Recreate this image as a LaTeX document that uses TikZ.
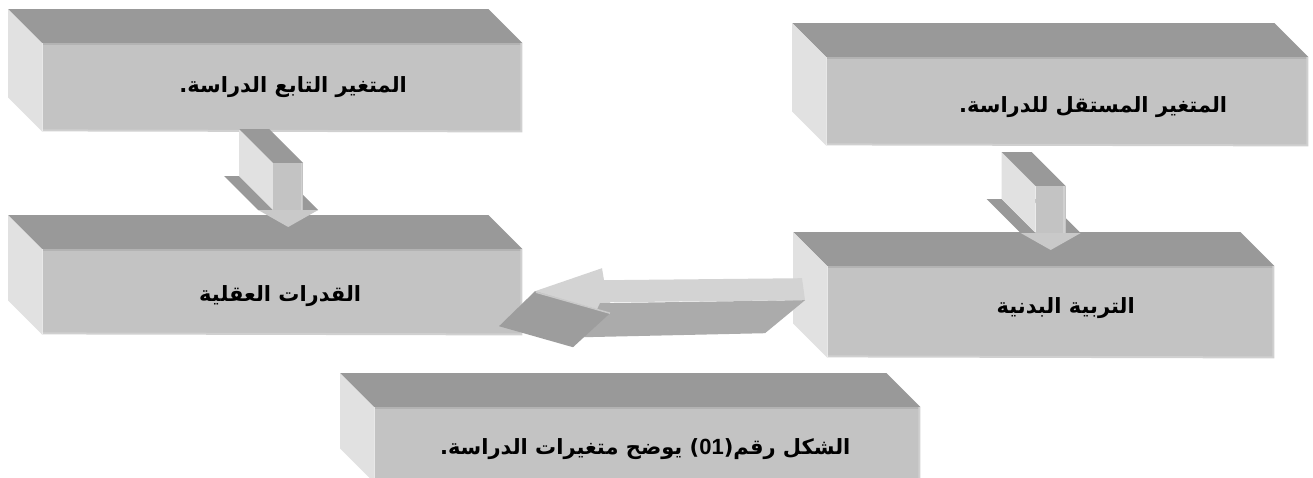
\documentclass[tikz,border=0pt]{standalone}
\usepackage{fontspec}
\usetikzlibrary{calc}
\TeXXeTstate=1
\newfontfamily\arabicfont[Script=Arabic]{DejaVu Sans}
\newfontfamily\latinfont{Liberation Sans}
\definecolor{topc}{HTML}{999999}
\definecolor{frontc}{HTML}{C3C3C3}
\definecolor{sidec}{HTML}{E1E1E1}
\definecolor{rimc}{HTML}{D0D0D0}
\definecolor{edgec}{HTML}{B3B3B3}
\definecolor{headc}{HTML}{C9C9C9}
\definecolor{shafttop}{HTML}{D3D3D3}
\definecolor{shaftfront}{HTML}{ABABAB}
\definecolor{headdark}{HTML}{9D9D9D}
\tikzset{
  frontface/.style={fill=frontc, inner sep=0pt, anchor=north west},
  boxtext/.style={font=\arabicfont\bfseries\fontsize{21}{25}\selectfont, inner sep=0pt, text=black},
  downarr/.pic={
    \fill[topc] (-19,-51) -- (-4,-51) -- (30,-17) -- (15,-17) -- cycle;
    \fill[topc] (-64,-51) -- (-49,-51) -- (-15,-17) -- (-30,-17) -- cycle;
    \fill[sidec] (-49,-98) -- (-15,-64) -- (-15,-17) -- (-49,-51) -- cycle;
    \fill[topc] (-49,-98) -- (-19,-98) -- (15,-64) -- (-15,-64) -- cycle;
    \fill[frontc] (-15,-64) rectangle (15,-17);
    \draw[rimc, line width=1.5pt] (13.5,-64) -- (13.5,-17);
    \fill[headc] (-30,-17) -- (30,-17) -- (0,0) -- cycle;
  }
}
\newcommand\solidbox[1]{%
  \fill[topc] ($(#1.north west)+(-34,-34)$) -- ($(#1.north east)+(-34,-34)$) -- (#1.north east) -- (#1.north west) -- cycle;
  \fill[sidec] ($(#1.north west)+(-34,-34)$) -- (#1.north west) -- (#1.south west) -- ($(#1.south west)+(-34,-34)$) -- cycle;
  \draw[edgec, line width=2pt] ($(#1.north west)+(1,1)$) -- ($(#1.north east)+(0,1)$);
  \draw[rimc, line width=2pt] ($(#1.north east)+(-1,0)$) -- ($(#1.south east)+(-1,0)$) -- ($(#1.south west)+(0,-1)$);
  \draw[white, opacity=0.6, line width=1.2pt] ($(#1.north west)+(0.6,0)$) -- ($(#1.south west)+(0.6,0)$);
}
\begin{document}
\begin{tikzpicture}[x=1pt,y=-1pt]
\fill[white] (0,0) rectangle (1313,477);
\clip (0,0) rectangle (1313,477);
% boxes (front faces)
\node[frontface, minimum width=480pt, minimum height=88pt] (A) at (42,43) {};
\node[frontface, minimum width=480pt, minimum height=85pt] (B) at (42,249) {};
\node[frontface, minimum width=482pt, minimum height=88pt] (C) at (826,57) {};
\node[frontface, minimum width=447pt, minimum height=91pt] (D) at (827,266) {};
\node[frontface, minimum width=546pt, minimum height=75pt] (E) at (374,407) {};
\solidbox{A}
\solidbox{B}
\solidbox{C}
\solidbox{D}
\solidbox{E}
% texts
\node[boxtext] (At) at ($(A.center)+(11,0)$) {\beginR المتغير التابع الدراسة.\endR};
\node[boxtext] (Bt) at ($(B.center)+(-2,4)$) {\beginR القدرات العقلية\endR};
\node[boxtext] (Ct) at ($(C.center)+(26,6)$) {\beginR المتغير المستقل للدراسة.\endR};
\node[boxtext] (Dt) at ($(D.center)+(15,-4)$) {\beginR التربية البدنية\endR};
\node[boxtext] (Et) at ($(E.center)+(-2,4)$) {\beginR الشكل رقم(\beginL{\latinfont\bfseries\fontsize{22}{25}\selectfont 01}\endL) يوضح متغيرات الدراسة.\endR};
% vertical arrows
\coordinate (a1) at ($(B.north)+(6,-22)$);
\coordinate (a2) at ($(D.north)+(0,-16)$);
\pic at (a1) {downarr};
\pic at (a2) {downarr};
% horizontal arrow from D to B
\coordinate (h0) at ($(D.west)+(-22,-11.5)$);
\begin{scope}[shift={(h0)}]
  \fill[shafttop] (-270,-9) -- (-203,-32) -- (-201,-20) -- (-3,-22) -- (0,0) -- (-195,2) -- (-193,13) -- cycle;
  \fill[shaftfront] (-205,3) -- (0,0) -- (-40,33) -- (-221,37) -- cycle;
  \fill[headdark] (-270,-9) -- (-195,13) -- (-232,47) -- (-306,26) -- cycle;
  \draw[headc, line width=1.5pt] (-269,-8) -- (-195,13);
\end{scope}
\end{tikzpicture}
\end{document}
